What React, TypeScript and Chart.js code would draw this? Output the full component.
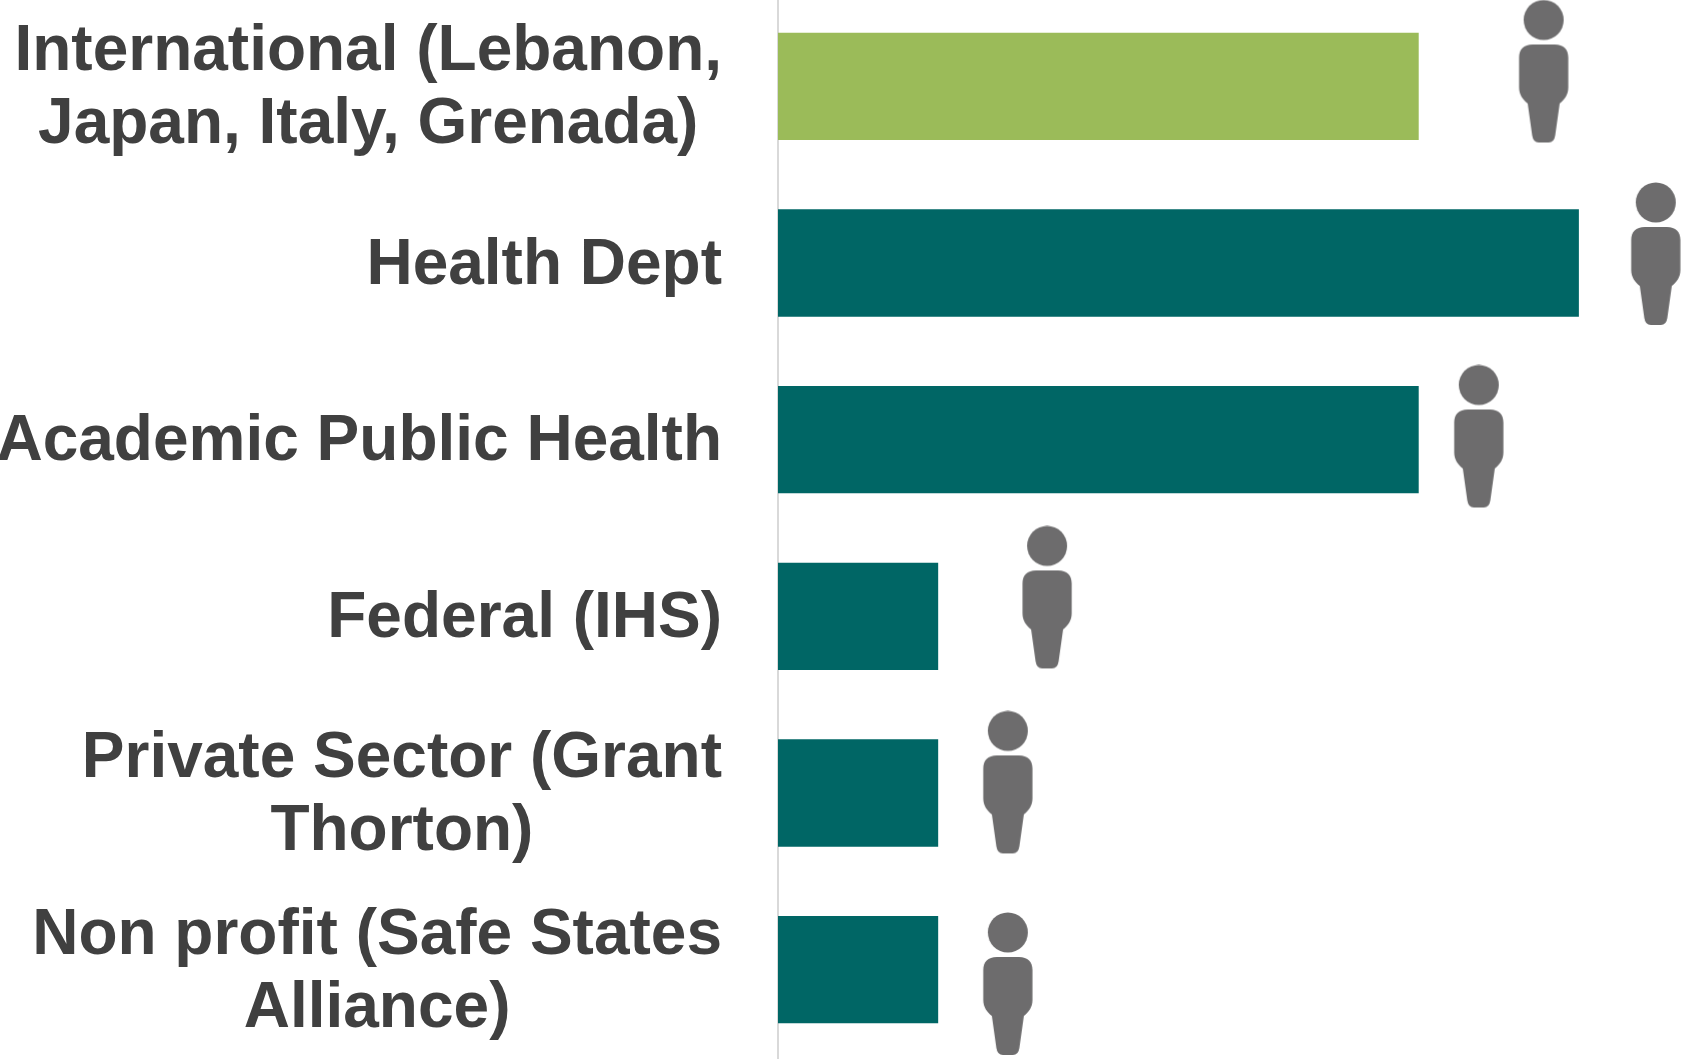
import React, { useEffect, useRef } from "react";
import { Chart, registerables } from "chart.js";

Chart.register(...registerables);

const categories: string[][] = [
  ["International (Lebanon,", "Japan, Italy, Grenada)"],
  ["Health Dept"],
  ["Academic Public Health"],
  ["Federal (IHS)"],
  ["Private Sector (Grant", "Thorton)"],
  ["Non profit (Safe States", "Alliance)"],
];
const values = [4, 5, 4, 1, 1, 1];
const barColors = ["#9BBB59", "#006665", "#006665", "#006665", "#006665", "#006665"];
const peopleX = [4.78, 5.48, 4.375, 1.68, 1.435, 1.435];
const peopleY = [0.416, 1.449, 2.482, 3.393, 4.44, 5.581];

const TEXT_COLOR = "#404040";
const PERSON_COLOR = "#6D6C6D";
const FONT = "bold 64px 'Liberation Sans', Arial, sans-serif";
const AXIS_WIDTH = 778;
const LABEL_RIGHT = 722;
const LINE_HEIGHT = 73.3;
const BASELINE_SHIFT = 20.5;

function makePerson(): HTMLCanvasElement {
  const c = document.createElement("canvas");
  c.width = 52;
  c.height = 144;
  const g = c.getContext("2d")!;
  const m = 26;
  g.fillStyle = PERSON_COLOR;
  g.beginPath();
  g.arc(m, 20.5, 20, 0, Math.PI * 2);
  g.fill();
  g.beginPath();
  g.moveTo(m - 11, 45);
  g.lineTo(m + 11, 45);
  g.bezierCurveTo(m + 20, 45, m + 24.6, 50, m + 24.6, 58);
  g.lineTo(m + 24.6, 88);
  g.bezierCurveTo(m + 24.6, 95, m + 21, 100, m + 16, 104);
  g.lineTo(m + 11.5, 136);
  g.quadraticCurveTo(m + 10.5, 143, m + 5, 143);
  g.lineTo(m - 5, 143);
  g.quadraticCurveTo(m - 10.5, 143, m - 11.5, 136);
  g.lineTo(m - 16, 104);
  g.bezierCurveTo(m - 21, 100, m - 24.6, 95, m - 24.6, 88);
  g.lineTo(m - 24.6, 58);
  g.bezierCurveTo(m - 24.6, 50, m - 20, 45, m - 11, 45);
  g.closePath();
  g.fill();
  return c;
}

const centeredLabels = {
  id: "centeredLabels",
  afterDraw(chart: any) {
    const scale = chart.scales.y;
    const ctx = chart.ctx;
    ctx.save();
    ctx.font = FONT;
    ctx.fillStyle = TEXT_COLOR;
    ctx.textBaseline = "alphabetic";
    ctx.textAlign = "center";
    categories.forEach((lines, i) => {
      const cy = scale.getPixelForTick(i);
      const widest = Math.max(...lines.map((l) => ctx.measureText(l).width));
      const cx = LABEL_RIGHT - widest / 2;
      lines.forEach((line, j) => {
        const y = cy + BASELINE_SHIFT + (j - (lines.length - 1) / 2) * LINE_HEIGHT;
        ctx.fillText(line, cx, y);
      });
    });
    ctx.restore();
  },
};

export default function App() {
  const ref = useRef<HTMLCanvasElement | null>(null);
  useEffect(() => {
    const person = makePerson();
    const chart = new Chart(ref.current!, {
      type: "bar",
      data: {
        labels: categories.map((l) => l.join(" ")),
        datasets: [
          {
            type: "bar",
            label: "Count",
            data: values,
            backgroundColor: barColors,
            borderWidth: 0,
            barPercentage: 0.608,
            categoryPercentage: 1,
            grouped: false,
            xAxisID: "x",
            yAxisID: "y",
          } as any,
          {
            type: "scatter",
            label: "People",
            data: peopleX.map((x, i) => ({ x, y: peopleY[i] })),
            pointStyle: person,
            pointRadius: 26,
            clip: false,
            grouped: false,
            xAxisID: "x",
            yAxisID: "yPeople",
          } as any,
        ],
      },
      options: {
        indexAxis: "y",
        animation: false,
        responsive: false,
        layout: { autoPadding: false, padding: { top: 0, bottom: 1, left: 0, right: 0 } },
        plugins: { legend: { display: false }, tooltip: { enabled: false } },
        scales: {
          x: { type: "linear", axis: "x", min: 0, max: 5.65, display: false },
          y: {
            type: "category",
            axis: "y",
            position: "left",
            offset: true,
            grid: { display: false, drawTicks: false },
            border: { display: true, color: "#D9D9D9", width: 2 },
            ticks: { display: false },
            afterFit(scale: any) {
              scale.width = AXIS_WIDTH;
            },
          },
          yPeople: { type: "linear", axis: "y", min: 0, max: 6, reverse: true, offset: false, display: false },
        },
      } as any,
      plugins: [centeredLabels],
    });
    return () => chart.destroy();
  }, []);
  return (
    <div style={{ position: "fixed", left: 0, top: 0, width: 1683, height: 1059, overflow: "hidden", background: "#fff" }}>
      <canvas ref={ref} width={1683} height={1061} style={{ position: "absolute", left: 0, top: -2, display: "block" }} />
    </div>
  );
}
